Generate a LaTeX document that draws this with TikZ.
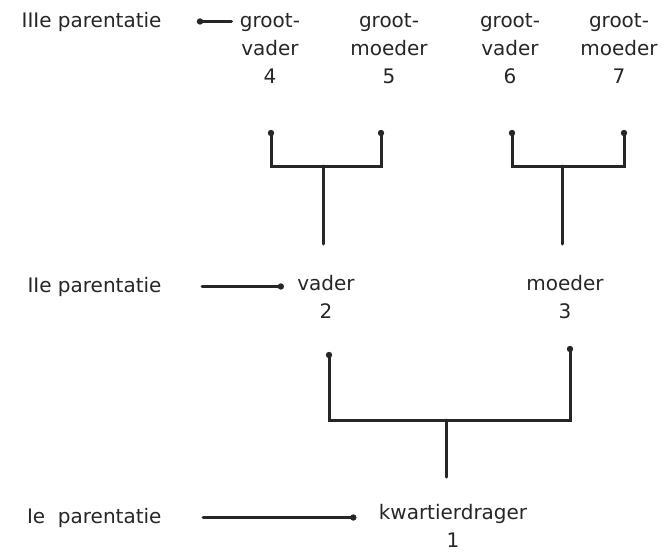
\documentclass[tikz,border=0pt]{standalone}
\usepackage{fontspec}
\setmainfont{DejaVu Sans}
\usepackage{tikz}
\usetikzlibrary{calc}
\definecolor{inkt}{RGB}{38,38,38}

\begin{document}
\begin{tikzpicture}[x=1pt,y=-1pt,color=inkt,line width=3pt,line cap=round,
  persoon/.style={inner sep=0pt,font=\fontsize{20}{28}\selectfont,align=center,anchor=base},
  generatie/.style={inner sep=0pt,font=\fontsize{20}{28}\selectfont,anchor=base east}]
\useasboundingbox (0,0) rectangle (666,552);
% generaties
\node[generatie] (lab3) at (163,27) {IIIe parentatie};
\node[generatie] (lab2) at (163,292) {IIe parentatie};
\node[generatie] (lab1) at (163,523) {Ie\ \ parentatie};
% personen (anker op de laatste regel)
\node[persoon] (p4) at (270,83) {groot-\\vader\\4};
\node[persoon] (p5) at (389,83) {groot-\\moeder\\5};
\node[persoon] (p6) at (510,83) {groot-\\vader\\6};
\node[persoon] (p7) at (619,83) {groot-\\moeder\\7};
\node[persoon] (p2) at (326,318) {vader\\2};
\node[persoon] (p3) at (565,318) {moeder\\3};
\node[persoon] (p1) at (453,547) {kwartierdrager\\1};
% pijlen
\coordinate (a3) at ($(lab3.east)+(37,0)$);
\coordinate (a2) at ($(lab2.east -| p2.west)+(-15,0)$);
\coordinate (a1) at ($(lab1.east -| p1.west)+(-24,0)$);
\draw (a3) -- ([xshift=-7pt]lab3.east -| p4.west);
\draw ([xshift=39pt]lab2.east) -- (a2);
\draw ([xshift=40pt]lab1.east) -- (a1);
\fill (a3) circle (3.2pt) (a2) circle (3.2pt) (a1) circle (3.2pt);
% vorken
\coordinate (t4) at (271,133); \coordinate (t5) at (381,133);
\coordinate (m45) at (323,166); \coordinate (e2) at (323,244);
\coordinate (t6) at (512,133); \coordinate (t7) at (624,133);
\coordinate (m67) at (562,166); \coordinate (e3) at (562,244);
\coordinate (t2) at (329,355); \coordinate (t3) at (570,349);
\coordinate (m23) at (446,420); \coordinate (e1) at (446,477);
\draw (t4) |- (m45) -| (t5);
\draw (m45) -- (e2);
\draw (t6) |- (m67) -| (t7);
\draw (m67) -- (e3);
\draw (t2) |- (m23) -| (t3);
\draw (m23) -- (e1);
\fill (t4) circle (3.2pt) (t5) circle (3.2pt) (t6) circle (3.2pt) (t7) circle (3.2pt)
      (t2) circle (3.2pt) (t3) circle (3.2pt);
\end{tikzpicture}
\end{document}
